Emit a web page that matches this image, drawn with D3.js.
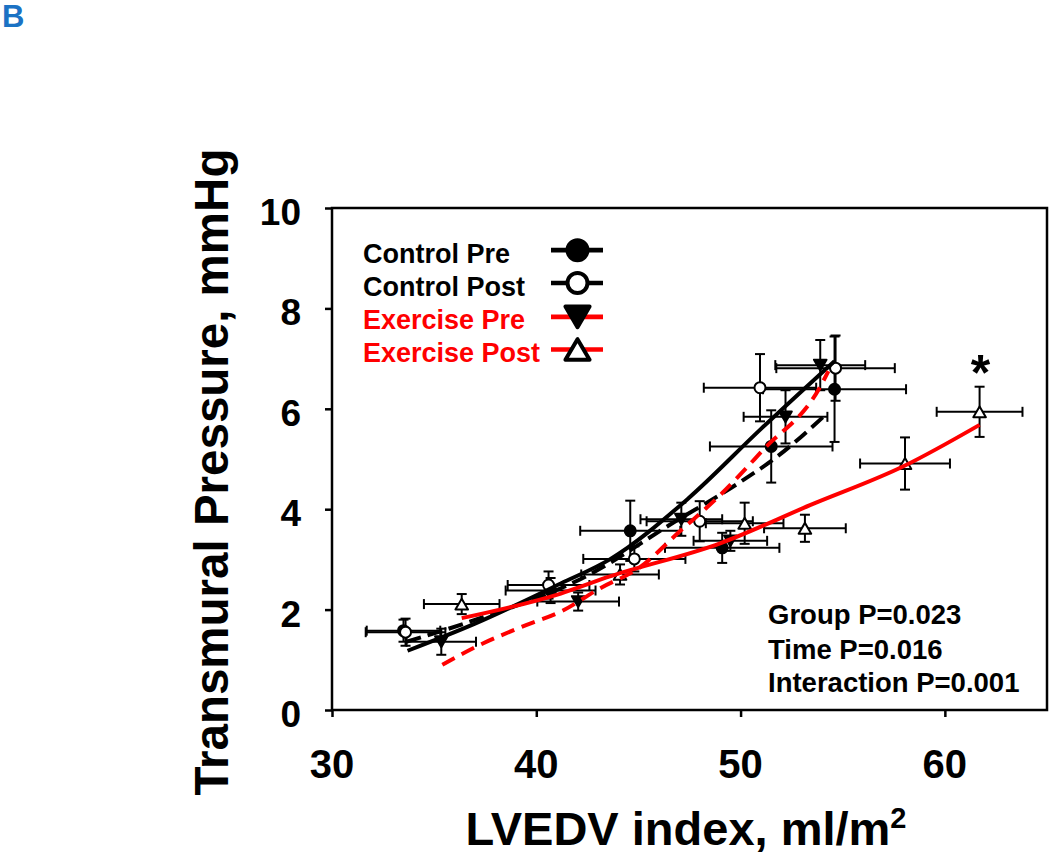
<!DOCTYPE html>
<html><head><meta charset="utf-8">
<script src="https://cdn.jsdelivr.net/npm/d3@7"></script>
<style>
body{margin:0;background:#fff;}
svg{display:block;}
text{font-family:"Liberation Sans",Arial,Helvetica,sans-serif;font-weight:bold;}
</style>
</head><body>
<svg id="chart" width="1050" height="856"></svg>
<script>
// ---------- data ----------
const seriesNames = ["Control Pre", "Control Post", "Exercise Pre", "Exercise Post"];
const xTicks = [30, 40, 50, 60];
const yTicks = [0, 2, 4, 6, 8, 10];
const statLines = ["Group P=0.023", "Time P=0.016", "Interaction P=0.001"];

const ctrlPreX    = [33.5, 40.7, 44.6, 49.1, 51.5, 54.6];
const ctrlPreY    = [1.58, 2.38, 3.57, 3.23, 5.25, 6.39];
const ctrlPreXErr = [1.8, 2.2, 2.45, 2.8, 3.0, 3.5];
const ctrlPreYErr = [0.22, 0.25, 0.6, 0.3, 0.72, 1.05];

const ctrlPostX    = [33.6, 40.6, 44.8, 48.0, 50.95, 54.65];
const ctrlPostY    = [1.55, 2.49, 3.01, 3.76, 6.42, 6.81];
const ctrlPostXErr = [1.95, 2.0, 2.5, 2.6, 2.75, 2.9];
const ctrlPostYErr = [0.27, 0.27, 0.25, 0.4, 0.67, 0.65];

const exPreX    = [35.35, 42.05, 47.1, 49.5, 52.2, 53.9];
const exPreY    = [1.36, 2.16, 3.8, 3.37, 5.84, 6.87];
const exPreXErr = [1.7, 2.0, 2.0, 1.8, 2.05, 2.2];
const exPreYErr = [0.26, 0.18, 0.33, 0.2, 0.53, 0.5];

const exPostX    = [36.35, 44.1, 50.2, 53.15, 58.05, 61.7];
const exPostY    = [2.11, 2.7, 3.72, 3.62, 4.91, 5.94];
const exPostXErr = [1.85, 1.9, 1.9, 2.0, 2.2, 2.1];
const exPostYErr = [0.2, 0.2, 0.41, 0.27, 0.52, 0.5];

// fitted curves
const ctrlPreFitX = [33.7, 37.0, 41.2, 43.6, 47.4, 51.0, 54.6];
const ctrlPreFitY = [1.18, 1.72, 2.52, 3.0, 4.2, 5.6, 6.95];
const ctrlPostFitX = [33.65, 36.75, 42.7, 46.5, 49.9, 51.8, 54.05];
const ctrlPostFitY = [1.36, 1.76, 2.72, 3.68, 4.52, 5.05, 5.84];
const exPreFitX = [35.4, 37.1, 39.5, 41.2, 43.1, 45.1, 47.0, 49.0, 51.1, 53.9, 54.3];
const exPreFitY = [0.9, 1.27, 1.69, 1.96, 2.42, 2.85, 3.55, 4.28, 5.18, 6.44, 6.75];
const exPostFitX = [36.35, 41.2, 43.6, 49.0, 53.4, 58.0, 61.7];
const exPostFitY = [1.83, 2.32, 2.66, 3.32, 4.08, 4.86, 5.68];

// ---------- layout ----------
const svg = d3.select("#chart");
const x = d3.scaleLinear().domain([30, 65]).range([332, 1047]);
const y = d3.scaleLinear().domain([0, 10]).range([710, 208]);
const RED = "#ff0000";

const series = [
  {name: seriesNames[0], xs: ctrlPreX, ys: ctrlPreY, xe: ctrlPreXErr, ye: ctrlPreYErr,
   fx: ctrlPreFitX, fy: ctrlPreFitY, color: "#000", dash: null, marker: "circle", fill: "#000", text: "#000"},
  {name: seriesNames[1], xs: ctrlPostX, ys: ctrlPostY, xe: ctrlPostXErr, ye: ctrlPostYErr,
   fx: ctrlPostFitX, fy: ctrlPostFitY, color: "#000", dash: "15,7", marker: "circle", fill: "#fff", text: "#000"},
  {name: seriesNames[2], xs: exPreX, ys: exPreY, xe: exPreXErr, ye: exPreYErr,
   fx: exPreFitX, fy: exPreFitY, color: RED, dash: "14,8", marker: "down", fill: "#000", text: RED},
  {name: seriesNames[3], xs: exPostX, ys: exPostY, xe: exPostXErr, ye: exPostYErr,
   fx: exPostFitX, fy: exPostFitY, color: RED, dash: null, marker: "up", fill: "#fff", text: RED}
];

// panel label
svg.append("text").attr("x", 2).attr("y", 27).attr("font-size", 31).attr("fill", "#1b72c4").text("B");

// axes
const xAxis = d3.axisBottom(x).tickValues(xTicks).tickSize(7).tickFormat("");
const yAxis = d3.axisLeft(y).tickValues(yTicks).tickSize(7).tickFormat("");
const gx = svg.append("g").attr("transform", "translate(0,710)").call(xAxis);
const gy = svg.append("g").attr("transform", "translate(332,0)").call(yAxis);
[gx, gy].forEach(g => {
  g.select(".domain").remove();
  g.selectAll(".tick line").attr("stroke", "#000").attr("stroke-width", 2.5);
});
// frame
svg.append("rect").attr("x", x(30)).attr("y", y(10)).attr("width", x(65) - x(30)).attr("height", y(0) - y(10))
  .attr("fill", "none").attr("stroke", "#000").attr("stroke-width", 2.5);

// tick labels
svg.append("g").selectAll("text").data(xTicks).join("text")
  .attr("x", d => x(d)).attr("y", 778).attr("text-anchor", "middle").attr("font-size", 40).text(d => d);
svg.append("g").selectAll("text").data(yTicks).join("text")
  .attr("x", 301).attr("y", d => y(d) + 17).attr("text-anchor", "end").attr("font-size", 37).text(d => d);

// axis titles
const xt = svg.append("text").attr("x", 686).attr("y", 845).attr("text-anchor", "middle").attr("font-size", 47);
xt.append("tspan").text("LVEDV index, ml/m");
xt.append("tspan").attr("font-size", 29).attr("dy", -17).text("2");
svg.append("text").attr("transform", "translate(228,472) rotate(-90)").attr("text-anchor", "middle")
  .attr("font-size", 47.5).text("Transmural Pressure, mmHg");

// marker drawing helper
function drawMarker(g, type, cx, cy, size, fill, sw) {
  if (type === "circle") {
    g.append("circle").attr("cx", cx).attr("cy", cy).attr("r", size)
      .attr("fill", fill).attr("stroke", "#000").attr("stroke-width", sw);
  } else {
    const h = size * 1.8, w = size * 2.1;
    const pts = type === "down"
      ? [[cx - w / 2, cy - h / 2], [cx + w / 2, cy - h / 2], [cx, cy + h / 2]]
      : [[cx - w / 2, cy + h / 2], [cx + w / 2, cy + h / 2], [cx, cy - h / 2]];
    g.append("polygon").attr("points", pts.map(p => p.join(",")).join(" "))
      .attr("fill", fill).attr("stroke", "#000").attr("stroke-width", sw).attr("stroke-linejoin", "round");
  }
}

// error bars
const gErr = svg.append("g").attr("stroke", "#000").attr("stroke-width", 2).attr("fill", "none");
const cap = 5;
series.forEach(s => {
  s.xs.forEach((xv, i) => {
    const cx = x(xv), cy = y(s.ys[i]);
    const x0 = x(xv - s.xe[i]), x1 = x(xv + s.xe[i]);
    const y0 = y(s.ys[i] - s.ye[i]), y1 = y(s.ys[i] + s.ye[i]);
    gErr.append("line").attr("x1", x0).attr("x2", x1).attr("y1", cy).attr("y2", cy);
    gErr.append("line").attr("x1", x0).attr("x2", x0).attr("y1", cy - cap).attr("y2", cy + cap);
    gErr.append("line").attr("x1", x1).attr("x2", x1).attr("y1", cy - cap).attr("y2", cy + cap);
    gErr.append("line").attr("x1", cx).attr("x2", cx).attr("y1", y0).attr("y2", y1);
    gErr.append("line").attr("x1", cx - cap).attr("x2", cx + cap).attr("y1", y0).attr("y2", y0);
    gErr.append("line").attr("x1", cx - cap).attr("x2", cx + cap).attr("y1", y1).attr("y2", y1);
  });
});

// markers
const gMk = svg.append("g");
series.forEach(s => {
  s.xs.forEach((xv, i) => drawMarker(gMk, s.marker, x(xv), y(s.ys[i]), s.marker === "circle" ? 5.5 : 6, s.fill, 2));
});

// fitted lines
const line = d3.line().x(d => x(d[0])).y(d => y(d[1])).curve(d3.curveMonotoneX);
series.forEach(s => {
  const pts = s.fx.map((v, i) => [v, s.fy[i]]);
  svg.append("path").attr("d", line(pts)).attr("fill", "none").attr("stroke", s.color)
    .attr("stroke-width", 4).attr("stroke-dasharray", s.dash);
});

// asterisk above last Exercise Post point
const last = exPostX.length - 1;
svg.append("text").attr("x", x(exPostX[last]) + 1).attr("y", y(exPostY[last] + exPostYErr[last]) + 3)
  .attr("text-anchor", "middle").attr("font-size", 50).text("*");

// legend
const legBase = [262.7, 295.5, 329.3, 362];
const gLeg = svg.append("g");
series.forEach((s, i) => {
  gLeg.append("text").attr("x", 363).attr("y", legBase[i]).attr("font-size", 27).attr("fill", s.text).text(s.name);
  const cy = legBase[i] - 12.5;
  gLeg.append("line").attr("x1", 551).attr("x2", 603).attr("y1", cy).attr("y2", cy)
    .attr("stroke", s.color).attr("stroke-width", 4.7);
  drawMarker(gLeg, s.marker, 577.5, cy, s.marker === "circle" ? 10 : 11.5, s.fill, 4);
});

// statistics
svg.append("g").selectAll("text").data(statLines).join("text")
  .attr("x", 768).attr("y", (d, i) => [624, 659, 692][i]).attr("font-size", 27.5).text(d => d);
</script>
</body></html>
